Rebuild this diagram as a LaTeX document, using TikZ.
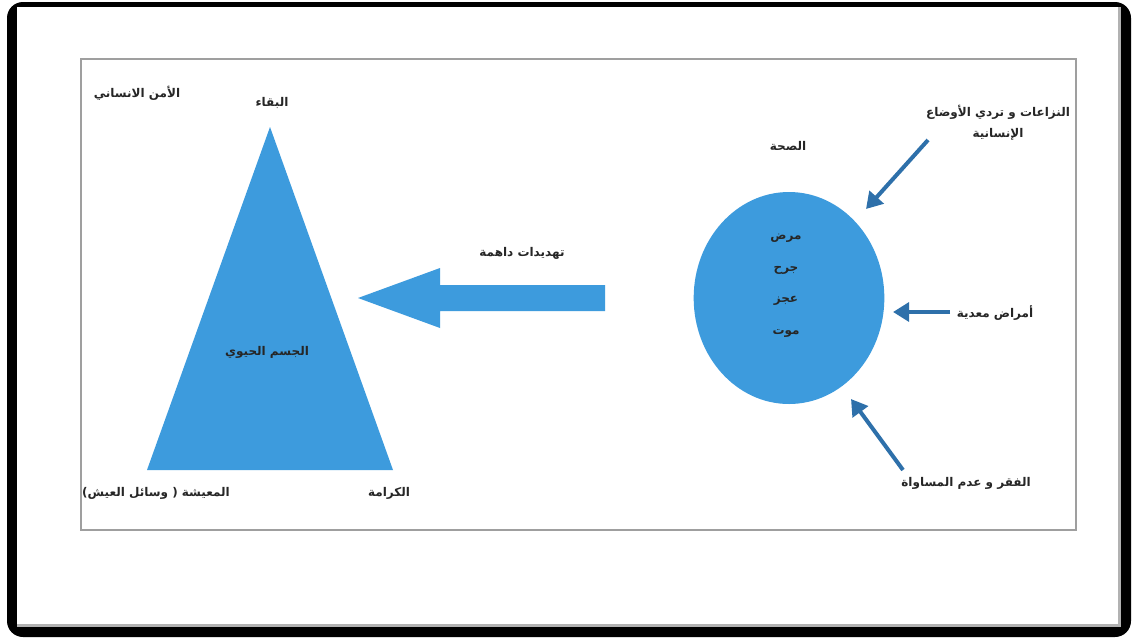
\documentclass[tikz,border=0pt]{standalone}
\usepackage{fontspec}
\newfontfamily\ar[Script=Arabic]{DejaVu Sans}
\TeXXeTstate=1
\usetikzlibrary{arrows.meta,shapes.geometric}
\definecolor{fillblue}{RGB}{61,155,221}
\definecolor{arrowblue}{RGB}{46,112,170}
\begin{document}
\begin{tikzpicture}[x=0.75pt,y=-0.75pt,
  lbl/.style={font=\ar\bfseries\fontsize{9}{16}\selectfont, inner sep=1pt, text=black!85},
  smallarrow/.style={draw=arrowblue, line width=3pt, -{Triangle[length=12pt,width=14pt]}}]
\useasboundingbox (0,0) rectangle (1137,639);
% outer frame
\fill[black, rounded corners=12pt] (7,2) rectangle (1131,637);
\fill[gray!60] (17,7) rectangle (1121,627);
\fill[white] (17,7) rectangle (1118,624);
% inner frame
\draw[gray!75, line width=1.5pt] (81,59) rectangle (1076,530);
% triangle
\fill[fillblue] (270,127) -- (393,470) -- (147,470) -- cycle;
% big arrow
\fill[fillblue] (605,285) -- (440,285) -- (440,268) -- (358,298) -- (440,328) -- (440,311) -- (605,311) -- cycle;
% ellipse
\node[ellipse, fill=fillblue, minimum width=143pt, minimum height=159pt, inner sep=0pt] (oval) at (789,298) {};
% small arrows
\coordinate (a1s) at (928,140); \coordinate (a1e) at (866,209);
\coordinate (a2s) at (950,312); \coordinate (a2e) at (893,312);
\coordinate (a3s) at (903,470); \coordinate (a3e) at (851,399);
\draw[smallarrow] (a1s) -- (a1e);
\draw[smallarrow] (a2s) -- (a2e);
\draw[smallarrow] (a3s) -- (a3e);
% labels
\node[lbl] (human) at (137,93) {\beginR الأمن الانساني\endR};
\node[lbl] (survive) at (272,103) {\beginR البقاء\endR};
\node[lbl] (living) at (156,493) {\beginR المعيشة ( وسائل العيش)\endR};
\node[lbl] (dignity) at (389,493) {\beginR الكرامة\endR};
\node[lbl] (body) at (267,352) {\beginR الجسم الحيوي\endR};
\node[lbl] (threat) at (522,253) {\beginR تهديدات داهمة\endR};
\node[lbl] (health) at (788,146) {\beginR الصحة\endR};
\node[lbl, align=center] (conflict) at (998,123) {\beginR النزاعات و تردي الأوضاع\endR\\\beginR الإنسانية\endR};
\node[lbl] (w1) at (786,238) {\beginR مرض\endR};
\node[lbl] (w2) at (786,270) {\beginR جرح\endR};
\node[lbl] (w3) at (786,301) {\beginR عجز\endR};
\node[lbl] (w4) at (786,333) {\beginR موت\endR};
\node[lbl] (disease) at (995,313) {\beginR أمراض معدية\endR};
\node[lbl] (poverty) at (966,483) {\beginR الفقر و عدم المساواة\endR};
\end{tikzpicture}
\end{document}
